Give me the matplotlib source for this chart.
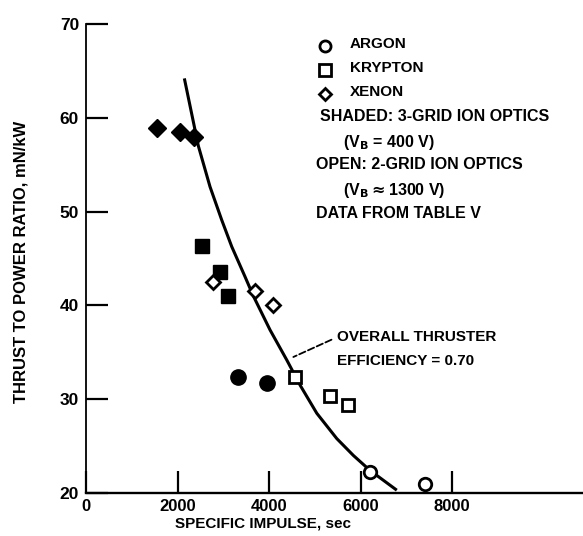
import matplotlib.pyplot as plt

# Data (specific impulse in s, thrust/power in mN/kW)
argon_shaded_isp = [3320, 3950]
argon_shaded_tp = [32.4, 31.7]
argon_open_isp = [6210, 7410]
argon_open_tp = [22.2, 21.0]

krypton_shaded_isp = [2535, 2930, 3100]
krypton_shaded_tp = [46.3, 43.6, 41.0]
krypton_open_isp = [4570, 5330, 5730]
krypton_open_tp = [32.4, 30.3, 29.4]

xenon_shaded_isp = [1550, 2055, 2360]
xenon_shaded_tp = [58.9, 58.5, 58.0]
xenon_open_isp = [2780, 3694, 4094]
xenon_open_tp = [42.5, 41.5, 40.0]

# overall thruster efficiency = 0.70 curve
curve_isp = [2149, 2455, 2710, 2966, 3185, 3475, 3657, 4022, 4387, 4678,
             5043, 5480, 5843, 6208, 6791]
curve_tp = [64.2, 57.0, 52.65, 49.1, 46.26, 43.06, 41.0, 37.38, 34.18, 31.5,
            28.5, 25.8, 24.0, 22.4, 20.3]

x_ticks = [2000, 4000, 6000, 8000]
y_ticks = [30, 40, 50, 60, 70]

plt.rcParams.update({
    "font.family": "Liberation Sans",
    "font.weight": "bold",
})

fig = plt.figure(figsize=(5.83, 5.36), dpi=100)
ax = fig.add_axes([86 / 583, 43 / 536, 497 / 583, 469 / 536])

ax.plot(curve_isp, curve_tp, color="black", linewidth=2.2, zorder=2,
        solid_capstyle="butt", solid_joinstyle="round")

fill = dict(color="black", linestyle="none", zorder=3)
opn = dict(color="black", markerfacecolor="white", markeredgewidth=2,
           linestyle="none", zorder=3)

ax.plot(argon_shaded_isp, argon_shaded_tp, "o", markersize=11, **fill)
ax.plot(argon_open_isp, argon_open_tp, "o", markersize=9, **opn)
ax.plot(krypton_shaded_isp, krypton_shaded_tp, "s", markersize=10, **fill)
ax.plot(krypton_open_isp, krypton_open_tp, "s", markersize=9, **opn)
ax.plot(xenon_shaded_isp, xenon_shaded_tp, "D", markersize=9, **fill)
ax.plot(xenon_open_isp, xenon_open_tp, "D", markersize=7.5, **opn)

ax.set_xlim(0, 10860)
ax.set_ylim(20, 70)
for s in ("top", "right"):
    ax.spines[s].set_visible(False)
ax.spines["left"].set_linewidth(1.3)
ax.spines["bottom"].set_linewidth(1.7)

ax.set_xticks([0] + x_ticks)
ax.set_xticklabels(["0"] + [str(v) for v in x_ticks])
ax.set_yticks([20] + y_ticks)
ax.set_yticklabels(["20"] + [str(v) for v in y_ticks])
ax.tick_params(axis="both", direction="in", length=16, width=1.6,
               labelsize=12.5, pad=5)
ax.tick_params(axis="x", labelsize=12, pad=4)

# custom key in the upper right
kx, tx = 0.481, 0.531
key = [("o", 0.953, "ARGON"), ("s", 0.902, "KRYPTON"), ("D", 0.850, "XENON")]
for m, yy, lab in key:
    ax.plot([kx], [yy], m, transform=ax.transAxes, markersize=8 if m != "D" else 6.5,
            color="black", markerfacecolor="white", markeredgewidth=2,
            clip_on=False)
    ax.text(tx, yy + 0.005, lab, transform=ax.transAxes, fontsize=11,
            va="center", ha="left")

notes = [
    (0.471, 0.802, "SHADED: 3-GRID ION OPTICS"),
    (0.517, 0.748, r"(V$_\mathbf{B}$ = 400 V)"),
    (0.463, 0.701, "OPEN: 2-GRID ION OPTICS"),
    (0.517, 0.646, r"(V$_\mathbf{B}$$\approx$1300 V)"),
    (0.463, 0.597, "DATA FROM TABLE V"),
]
for xx, yy, t in notes:
    ax.text(xx, yy, t, transform=ax.transAxes, fontsize=11.5,
            va="center", ha="left")

ax.annotate("OVERALL THRUSTER",
            xy=(4531, 34.5), xytext=(5480, 36.6),
            fontsize=11, ha="left", va="center",
            arrowprops=dict(arrowstyle="-", linestyle="--", color="black",
                            lw=1.3, shrinkA=2, shrinkB=0, relpos=(0, 0.5)))
ax.text(5480, 34.1, "EFFICIENCY = 0.70", fontsize=11, ha="left",
        va="center")

fig.text(21 / 583, 1 - 262 / 536, "THRUST TO POWER RATIO, mN/kW",
         rotation=90, ha="center", va="center", fontsize=12)
fig.text(263 / 583, 1 - 523 / 536, "SPECIFIC IMPULSE, sec",
         ha="center", va="center", fontsize=11)

fig.savefig("out.png", dpi=100, facecolor="white")
